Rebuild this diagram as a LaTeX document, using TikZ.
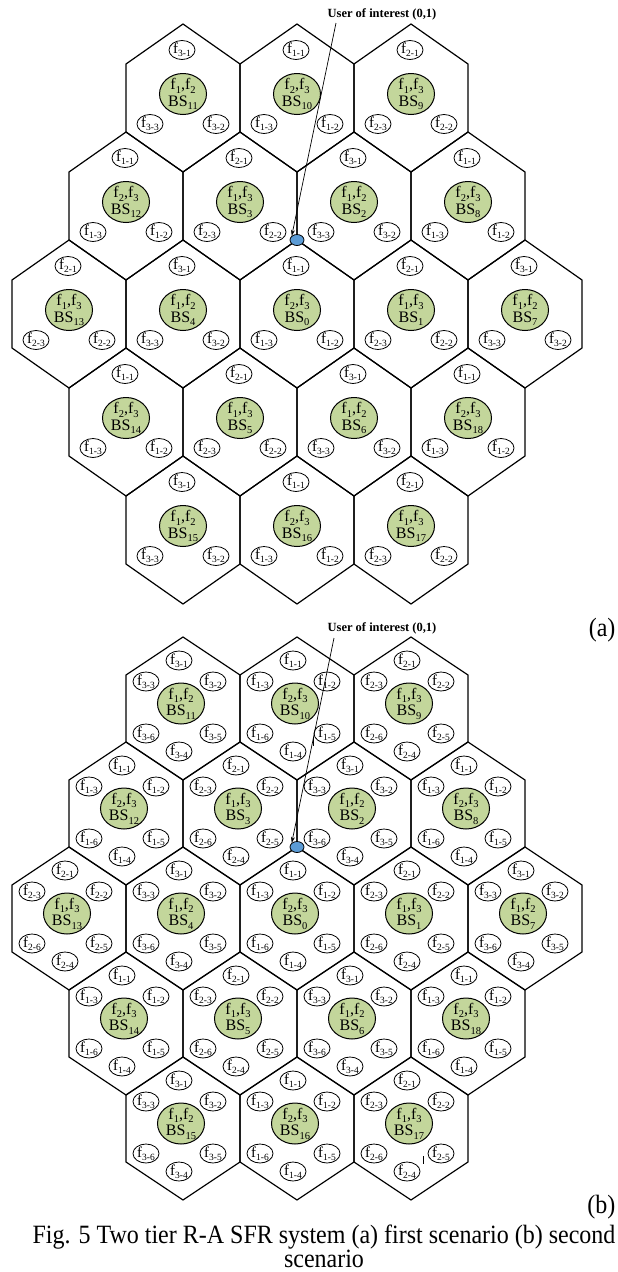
\documentclass[tikz,border=0pt]{standalone}
\usepackage{fontspec}
\setmainfont{Liberation Serif}
\usepackage{graphicx}
\usetikzlibrary{shapes.geometric}
\usetikzlibrary{arrows.meta}

\definecolor{bsgreen}{RGB}{195,214,155}
\definecolor{userblue}{RGB}{91,155,213}

% lowered index, as in f_{3-1}
\newcommand{\lo}[1]{\raisebox{-3.5pt}{\fontsize{10.5}{10.5}\selectfont #1}}
\newcommand{\lof}[1]{\raisebox{-3pt}{\fontsize{9.5}{9.5}\selectfont #1}}
% the two bands a BS uses, from the band it leaves to the edge
\newcommand{\pairlab}[1]{\ifcase#1\or f\lo{2},f\lo{3}\or f\lo{1},f\lo{3}\or f\lo{1},f\lo{2}\fi}

\tikzset{
  hexline/.style={line width=1.2pt, line join=miter},
  bsnode/.style={ellipse, draw, line width=1pt, fill=bsgreen, minimum width=47pt,
    minimum height=41pt, inner xsep=0pt, inner ysep=-1.5pt, align=center,
    font=\fontsize{16}{16.5}\selectfont},
  fnode/.style={ellipse, draw, line width=0.8pt, fill=white, minimum width=26pt,
    minimum height=19pt, inner sep=-2pt, font=\fontsize{15}{15}\selectfont},
  usernode/.style={ellipse, draw, line width=0.8pt, fill=userblue, minimum width=14pt,
    minimum height=11pt, inner sep=0pt},
  userlab/.style={font=\bfseries\fontsize{12.5}{12.5}\selectfont, anchor=base},
  caplab/.style={font=\fontsize{24}{24}\selectfont, anchor=base},
}

\begin{document}
\begin{tikzpicture}[x=1pt, y=-1pt]
  \useasboundingbox (0,0) rectangle (618,1272);

  % (a) first scenario
  \foreach \cx/\cy/\k/\n in {183/98/3/11, 297/98/1/10, 411/98/2/9,
      126/206/1/12, 240/206/2/3, 354/206/3/2, 468/206/1/8,
      69/314/2/13, 183/314/3/4, 297/314/1/0, 411/314/2/1, 525/314/3/7,
      126/422/1/14, 240/422/2/5, 354/422/3/6, 468/422/1/18,
      183/530/3/15, 297/530/1/16, 411/530/2/17} {
    \draw[hexline] (\cx,\cy) +(0,-74) -- +(57,-34) -- +(57,34) -- +(0,74)
      -- +(-57,34) -- +(-57,-34) -- cycle;
    \node[bsnode] (bsa\n) at (\cx,\cy-4) {\pairlab{\k}\\BS\lo{\n}};
    \node[fnode] (fa\n-1) at (\cx-1,\cy-48) {f\lof{\k-1}};
    \node[fnode] (fa\n-3) at (\cx-33,\cy+26) {f\lof{\k-3}};
    \node[fnode] (fa\n-2) at (\cx+33,\cy+26) {f\lof{\k-2}};
  }

  \node[userlab] (labela) at (382,17) {User of interest (0,1)};
  \coordinate (starta) at (336,23);
  \node[usernode] (usera) at (297,240) {};
  \draw[line width=0.7pt, -{Stealth[length=6pt,width=4pt]}] (starta) -- (usera.north west);
  \node[caplab, anchor=base east] (taga) at (619,636) {\scalebox{1}[1.1]{(a)}};

  % (b) second scenario
  \foreach \cx/\cy/\k/\n in {183/708.5/3/11, 297/708.5/1/10, 411/708.5/2/9,
      126/813.5/1/12, 240/813.5/2/3, 354/813.5/3/2, 468/813.5/1/8,
      69/918.5/2/13, 183/918.5/3/4, 297/918.5/1/0, 411/918.5/2/1, 525/918.5/3/7,
      126/1023.5/1/14, 240/1023.5/2/5, 354/1023.5/3/6, 468/1023.5/1/18,
      183/1128.5/3/15, 297/1128.5/1/16, 411/1128.5/2/17} {
    \draw[hexline] (\cx,\cy) +(0,-71.5) -- +(57,-33.5) -- +(57,33.5) -- +(0,71.5)
      -- +(-57,33.5) -- +(-57,-33.5) -- cycle;
    \node[bsnode] (bsb\n) at (\cx-2,\cy-5) {\pairlab{\k}\\BS\lo{\n}};
    \node[fnode] (fb\n-1) at (\cx-4,\cy-48) {f\lof{\k-1}};
    \node[fnode] (fb\n-3) at (\cx-37,\cy-27) {f\lof{\k-3}};
    \node[fnode] (fb\n-2) at (\cx+30,\cy-27) {f\lof{\k-2}};
    \node[fnode] (fb\n-6) at (\cx-37,\cy+25) {f\lof{\k-6}};
    \node[fnode] (fb\n-5) at (\cx+30,\cy+25) {f\lof{\k-5}};
    \node[fnode] (fb\n-4) at (\cx-4,\cy+43) {f\lof{\k-4}};
  }

  \node[userlab] (labelb) at (382,631) {User of interest (0,1)};
  \coordinate (startb) at (334,638);
  \node[usernode] (userb) at (297,847) {};
  \draw[line width=0.7pt, -{Stealth[length=6pt,width=4pt]}] (startb) -- (userb.north west);
  \draw[line width=0.6pt] (313,737) -- (313,746);
  \draw[line width=0.6pt] (423,1156) -- (423,1164);
  \node[caplab, anchor=base east] (tagb) at (619,1213) {\scalebox{1}[1.1]{(b)}};

  \node[caplab] (capa) at (324,1243) {\scalebox{1}[1.1]{Fig. 5 Two tier R-A SFR system (a) first scenario (b) second}};
  \node[caplab] (capb) at (324,1267) {\scalebox{1}[1.1]{scenario}};
\end{tikzpicture}
\end{document}
